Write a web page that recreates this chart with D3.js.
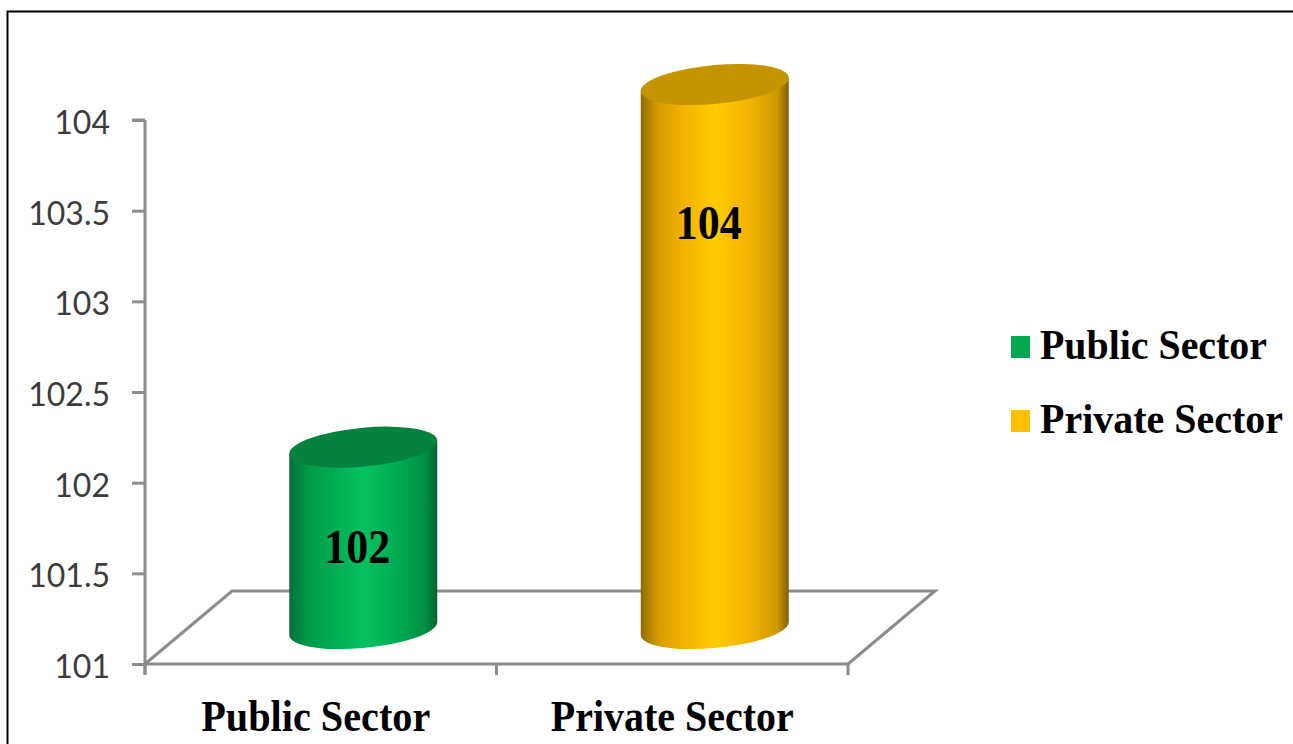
<!DOCTYPE html>
<html>
<head>
<meta charset="utf-8">
<script src="https://cdn.jsdelivr.net/npm/d3@7"></script>
<style>
  html, body { margin: 0; padding: 0; background: #fff; overflow: hidden; }
  svg { display: block; }
</style>
</head>
<body>
<svg id="chart" width="1293" height="744"></svg>
<script>
const categories = ["Public Sector", "Private Sector"];
const values = [102, 104];
const tickValues = [101, 101.5, 102, 102.5, 103, 103.5, 104];
const barColors = [
  { top: "#068240", edge: "#06703a", shoulder: "#009a48", mid: "#00ad54", light: "#05c25e", fade: "#008f44", far: "#05632f" },
  { top: "#c49500", edge: "#8f6c00", shoulder: "#d89c00", mid: "#f4b400", light: "#ffcc00", fade: "#cf9a00", far: "#7f6000" }
];
const legendColors = ["#00a850", "#ffc000"];

const svg = d3.select("#chart");
const W = 1293, H = 744;
const axisGrey = "#8c8c8c";
const serif = "'Liberation Serif', serif";

// Page frame: top and left rules only, running off the page edge.
svg.append("path")
  .attr("d", `M7.5,${H}V11.5H${W}`)
  .attr("fill", "none").attr("stroke", "#000").attr("stroke-width", 2);

// Scales for the front plane of the 3D plot; the floor recedes by depthX/depthY.
const x = d3.scaleBand().domain(categories).range([145, 848]);
const y = d3.scaleLinear().domain([101, 104]).range([664, 120]);
const depthX = 87, depthY = 73;
const barRx = 74, barRy = 19.5, barTilt = 6.5;
const barCx = c => x(c) + x.bandwidth() / 2 + depthX / 2 - 1;
const barLift = depthY / 2 - 1;

// Condensed bold serif: the face is set to an exact run width.
const categoryWidths = [229, 243];
const legendWidths = [227, 243];

// Floor parallelogram.
const [x0, x1] = x.range();
const floorY = y.range()[0];
svg.append("path")
  .attr("d", `M${x0},${floorY}L${x0 + depthX},${floorY - depthY}H${x1 + depthX}L${x1},${floorY}`)
  .attr("fill", "none").attr("stroke", axisGrey).attr("stroke-width", 3);

// Value axis.
const yAxis = svg.append("g")
  .attr("transform", `translate(${x0},0)`)
  .call(d3.axisLeft(y).tickValues(tickValues).tickSize(13).tickPadding(22).tickSizeOuter(0)
    .tickFormat(d3.format("~g")));
yAxis.selectAll("line, path").attr("stroke", axisGrey).attr("stroke-width", 3);
yAxis.select(".domain").attr("d", `M0,${y(104)}H-13M0,${y(104)}V${floorY + 11}`).attr("fill", "none");
yAxis.selectAll("text")
  .attr("fill", "#3c3c3c")
  .attr("dy", "0.42em")
  .style("font-family", "Lato, sans-serif")
  .style("font-size", "32px");

// Category axis: labels from the band scale, ticks at band edges.
const xAxis = svg.append("g")
  .attr("transform", `translate(0,${floorY})`)
  .call(d3.axisBottom(x).tickSize(0).tickPadding(36));
xAxis.select(".domain").attr("d", `M${x0},0H${x1}`).attr("stroke", axisGrey).attr("stroke-width", 3);
xAxis.selectAll("text")
  .attr("fill", "#000")
  .attr("dx", (d, i) => (i === 0 ? -5 : 0))
  .attr("textLength", (d, i) => categoryWidths[i])
  .attr("lengthAdjust", "spacingAndGlyphs")
  .style("font-family", serif)
  .style("font-weight", "bold")
  .style("font-size", "44px");
xAxis.selectAll(".edge")
  .data([x0, x0 + x.step(), x1])
  .join("line")
  .attr("class", "edge")
  .attr("x1", d => d).attr("x2", d => d)
  .attr("y1", 0).attr("y2", 11)
  .attr("stroke", axisGrey).attr("stroke-width", 3);

// Horizontal shading of each cylinder, defined in its own local coordinates.
const defs = svg.append("defs");
categories.forEach((c, i) => {
  const col = barColors[i];
  const g = defs.append("linearGradient")
    .attr("id", `shade${i}`)
    .attr("gradientUnits", "userSpaceOnUse")
    .attr("x1", -barRx).attr("x2", barRx).attr("y1", 0).attr("y2", 0);
  [[0, col.edge], [0.12, col.shoulder], [0.3, col.mid], [0.5, col.light], [0.72, col.mid], [0.92, col.fade], [1, col.far]]
    .forEach(([o, s]) => g.append("stop").attr("offset", o).attr("stop-color", s));
});

// Cylinders: a sheared group gives the tilted elliptical caps.
const bars = svg.selectAll(".bar")
  .data(categories.map((c, i) => ({ c, i, v: values[i] })))
  .join("g")
  .attr("class", "bar")
  .attr("transform", d => `matrix(1,${-barTilt / barRx},0,1,${barCx(d.c)},0)`);

bars.append("path")
  .attr("fill", d => `url(#shade${d.i})`)
  .attr("d", d => {
    const top = y(d.v) - barLift, base = floorY - barLift;
    return `M${-barRx},${top}V${base}A${barRx},${barRy} 0 0 0 ${barRx},${base}V${top}Z`;
  });
bars.append("ellipse")
  .attr("cx", 0)
  .attr("cy", d => y(d.v) - barLift)
  .attr("rx", barRx).attr("ry", barRy)
  .attr("fill", d => barColors[d.i].top);

// Value labels placed on each column.
svg.selectAll(".value")
  .data(categories.map((c, i) => ({ c, v: values[i] })))
  .join("text")
  .attr("class", "value")
  .attr("x", d => barCx(d.c) - 6)
  .attr("y", d => (d.v === 102 ? 563 : 239))
  .attr("text-anchor", "middle")
  .attr("textLength", 66)
  .attr("lengthAdjust", "spacingAndGlyphs")
  .style("font-family", serif)
  .style("font-weight", "bold")
  .style("font-size", "48px")
  .text(d => d.v);

// Legend: labels are narrowed horizontally so each run fits its target width.
const legend = svg.selectAll(".legend")
  .data(categories)
  .join("g")
  .attr("class", "legend")
  .attr("transform", (d, i) => `translate(1011,${i === 0 ? 336 : 410})`);
legend.append("rect")
  .attr("width", 19).attr("height", 22)
  .attr("fill", (d, i) => legendColors[i]);
legend.append("text")
  .style("font-family", serif)
  .style("font-weight", "bold")
  .style("font-size", "43px")
  .text(d => d)
  .attr("transform", function (d, i) {
    return `translate(29,23) scale(${legendWidths[i] / this.getComputedTextLength()},1)`;
  });
</script>
</body>
</html>
